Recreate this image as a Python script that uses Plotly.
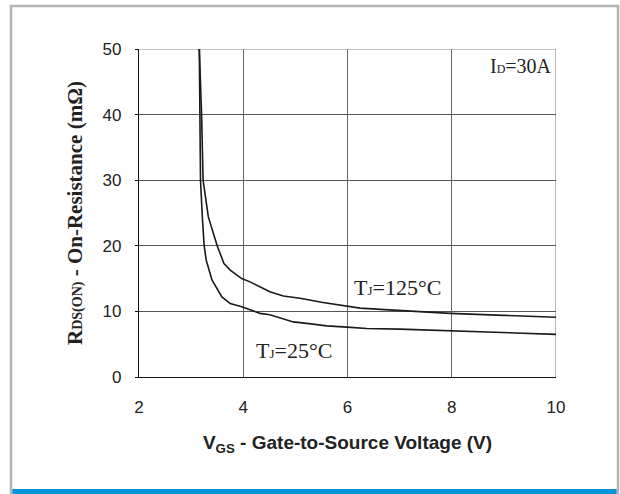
import plotly.graph_objects as go

# Gate-to-source voltage (V) and on-resistance (mOhm), T_J = 25 C
vgs_25 = [3.157, 3.17, 3.18, 3.215, 3.25, 3.29, 3.40, 3.59, 3.75, 3.97, 4.13, 4.32,
          4.51, 4.75, 4.96, 5.30, 5.60, 5.99, 6.37, 7.00, 7.97, 9.00, 10.0]
rds_25 = [50.0, 40.2, 30.0, 24.4, 20.0, 17.8, 14.8, 12.2, 11.2, 10.7, 10.2, 9.7,
          9.5, 8.9, 8.4, 8.1, 7.8, 7.6, 7.4, 7.3, 7.06, 6.8, 6.5]

# T_J = 125 C
vgs_125 = [3.157, 3.20, 3.23, 3.33, 3.50, 3.63, 3.75, 3.97, 4.13, 4.32, 4.51, 4.77,
           5.09, 5.50, 5.99, 6.24, 6.88, 7.97, 9.00, 10.0]
rds_125 = [50.0, 40.2, 30.0, 24.4, 20.0, 17.3, 16.3, 15.0, 14.5, 13.8, 13.0, 12.35,
           12.0, 11.4, 10.8, 10.5, 10.2, 9.7, 9.4, 9.1]

x_ticks = [2, 4, 6, 8, 10]
y_ticks = [0, 10, 20, 30, 40, 50]

SERIF = "Liberation Serif, Times New Roman, serif"
SANS = "Liberation Sans, Arial, sans-serif"

W, H = 620, 494
L, R, T, B = 139, 64, 49, 117
pw, ph = W - L - R, H - T - B


def px(x):
    return (x - L) / pw


def py(y):
    return (H - B - y) / ph


def small(s, size):
    return f"<span style='font-size:{size}px'>{s}</span>"


fig = go.Figure()
line_style = dict(color="#1a1a1a", width=1.6)
fig.add_trace(go.Scatter(x=vgs_25, y=rds_25, mode="lines", line=line_style,
                         showlegend=False, hoverinfo="skip"))
fig.add_trace(go.Scatter(x=vgs_125, y=rds_125, mode="lines", line=line_style,
                         showlegend=False, hoverinfo="skip"))

annotations = [
    dict(x=10, y=50, xref="x", yref="y", xanchor="right", yanchor="top",
         xshift=-2, yshift=-4, text="I" + small("D", 12) + "=30A", showarrow=False,
         font=dict(family=SERIF, size=20, color="#222")),
    dict(x=6.95, y=13.7, xref="x", yref="y", text="T" + small("J", 13) + "=125°C",
         showarrow=False, font=dict(family=SERIF, size=22, color="#222")),
    dict(x=4.97, y=4.0, xref="x", yref="y", text="T" + small("J", 13) + "=25°C",
         showarrow=False, font=dict(family=SERIF, size=22, color="#222")),
]

shapes = [
    # outer gray frame
    dict(type="rect", xref="paper", yref="paper",
         x0=px(11), x1=px(618), y0=py(510), y1=py(6),
         line=dict(color="#b4b4b8", width=2.5), fillcolor="rgba(0,0,0,0)",
         layer="below"),
    # blue bar along the bottom
    dict(type="rect", xref="paper", yref="paper",
         x0=px(12.3), x1=px(616.7), y0=py(500), y1=py(489),
         line=dict(width=0), fillcolor="#0a93d7", layer="above"),
    # gray top and right plot borders
    dict(type="line", xref="x", yref="y", x0=2, x1=10, y0=50, y1=50,
         line=dict(color="#8a8a8a", width=1.2), layer="below"),
    dict(type="line", xref="x", yref="y", x0=10, x1=10, y0=0, y1=50,
         line=dict(color="#8a8a8a", width=1.2), layer="below"),
]

fig.update_layout(
    width=W, height=H,
    margin=dict(l=L, r=R, t=T, b=B, pad=0),
    paper_bgcolor="white", plot_bgcolor="white",
    annotations=annotations, shapes=shapes,
    xaxis=dict(
        range=[2, 10], tickvals=x_ticks, ticktext=[str(v) for v in x_ticks],
        showgrid=True, gridcolor="#666", gridwidth=1,
        showline=True, linecolor="#111", linewidth=1.3,
        ticks="", zeroline=False, ticklabelstandoff=14,
        tickfont=dict(family=SANS, size=17, color="#222"),
        title=dict(text="<b>V<sub>GS</sub> - Gate-to-Source Voltage (V)</b>",
                   font=dict(family=SANS, size=19, color="#222"), standoff=20),
    ),
    yaxis=dict(
        range=[0, 50], tickvals=y_ticks, ticktext=[str(v) for v in y_ticks],
        showgrid=True, gridcolor="#555", gridwidth=1,
        showline=True, linecolor="#111", linewidth=1.3,
        ticks="outside", ticklen=3, tickcolor="#111", zeroline=False,
        ticklabelstandoff=10,
        tickfont=dict(family=SANS, size=17, color="#222"),
        title=dict(text="<b>R" + small("DS(ON)", 14) + " - On-Resistance (mΩ)</b>",
                   font=dict(family=SERIF, size=21, color="#222"), standoff=14),
    ),
)

fig.write_html("out.html")
